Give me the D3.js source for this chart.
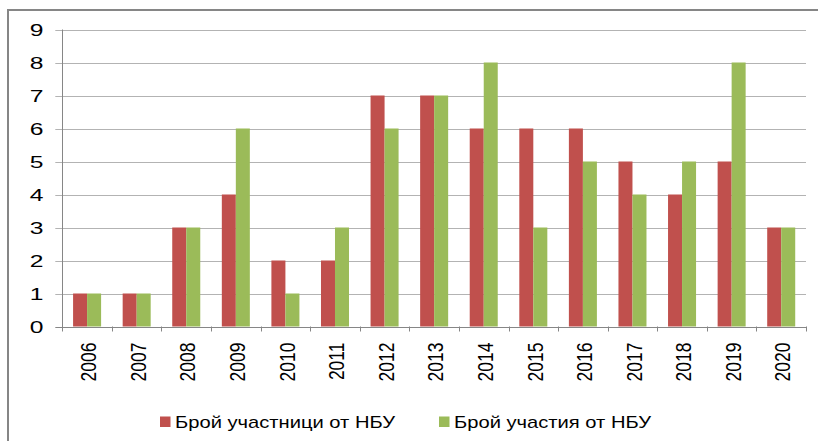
<!DOCTYPE html>
<html>
<head>
<meta charset="utf-8">
<script src="https://cdn.jsdelivr.net/npm/d3@7"></script>
<style>
  body { margin: 0; background: #fff; }
  text { font-family: "Liberation Sans", Arial, sans-serif; fill: #000; }
</style>
</head>
<body>
<svg id="chart" width="818" height="441"></svg>
<script>
const years = ['2006','2007','2008','2009','2010','2011','2012','2013','2014','2015','2016','2017','2018','2019','2020'];
const participants = [1, 1, 3, 4, 2, 2, 7, 7, 6, 6, 6, 5, 4, 5, 3];
const participations = [1, 1, 3, 6, 1, 3, 6, 7, 8, 3, 5, 4, 5, 8, 3];
const seriesNames = ['Брой участници от НБУ', 'Брой участия от НБУ'];
const colors = ['#c0504d', '#9bbb59'];
const yTicks = [0, 1, 2, 3, 4, 5, 6, 7, 8, 9];

const svg = d3.select('#chart');

// chart frame (clipped by the window on right and bottom)
svg.append('rect')
  .attr('x', 8).attr('y', 10)
  .attr('width', 830).attr('height', 460)
  .attr('fill', 'none')
  .attr('stroke', '#868686')
  .attr('stroke-width', 2);

const plotL = 62.3, plotR = 806, plotT = 29.5, plotB = 326.5;

const x = d3.scaleBand().domain(years).range([plotL, plotR])
  .paddingInner(0.435).paddingOuter(0.2175);
const xs = d3.scaleBand().domain([0, 1]).range([0, x.bandwidth()]);
const y = d3.scaleLinear().domain([0, 9]).range([plotB, plotT]);

// gridlines + left ticks
svg.append('g').selectAll('line').data(yTicks).enter().append('line')
  .attr('x1', plotL - 7).attr('x2', plotR)
  .attr('y1', d => Math.round(y(d)) + 0.5).attr('y2', d => Math.round(y(d)) + 0.5)
  .attr('stroke', d => d === 0 ? '#868686' : '#b3b3b3')
  .attr('stroke-width', 1);

// bars
const rows = years.map((yr, i) => ({ yr, vals: [participants[i], participations[i]] }));
const groups = svg.append('g').selectAll('g').data(rows).enter().append('g')
  .attr('transform', d => `translate(${x(d.yr)},0)`);
groups.selectAll('rect').data(d => d.vals.map((v, k) => ({ v, k }))).enter().append('rect')
  .attr('x', d => xs(d.k))
  .attr('width', xs.bandwidth())
  .attr('y', d => y(d.v))
  .attr('height', d => y(0) - y(d.v))
  .attr('fill', d => colors[d.k]);

// y axis line
svg.append('line')
  .attr('x1', Math.round(plotL) + 0.5).attr('x2', Math.round(plotL) + 0.5)
  .attr('y1', plotT).attr('y2', plotB + 0.5)
  .attr('stroke', '#868686');

// x axis tick marks at band boundaries
const step = x.step();
svg.append('g').selectAll('line').data(d3.range(years.length + 1)).enter().append('line')
  .attr('x1', i => Math.round(plotL + i * step) + 0.5)
  .attr('x2', i => Math.round(plotL + i * step) + 0.5)
  .attr('y1', plotB).attr('y2', plotB + 5)
  .attr('stroke', '#868686');

// y tick labels
svg.append('g').selectAll('text').data(yTicks).enter().append('text')
  .attr('transform', d => `translate(43.5,${y(d)}) scale(1.45,1)`)
  .attr('text-anchor', 'end')
  .attr('dy', '0.36em')
  .style('font-size', '17px')
  .text(d => d);

// x tick labels (rotated)
svg.append('g').selectAll('text').data(years).enter().append('text')
  .attr('transform', d => `translate(${x(d) + x.bandwidth() / 2 + 1},342.5) rotate(-90) scale(1,1.3)`)
  .attr('text-anchor', 'end')
  .attr('dy', '0.36em')
  .style('font-size', '17.5px')
  .text(d => d);

// legend
const legendX = [160, 439];
const legendW = [220, 197];
const lg = svg.append('g').selectAll('g').data(seriesNames).enter().append('g');
lg.append('rect')
  .attr('x', (d, i) => legendX[i]).attr('y', 416.5)
  .attr('width', 10.5).attr('height', 10.5)
  .attr('fill', (d, i) => colors[i]);
lg.append('text')
  .attr('x', (d, i) => legendX[i] + 15)
  .attr('y', 427.5)
  .attr('textLength', (d, i) => legendW[i])
  .attr('lengthAdjust', 'spacingAndGlyphs')
  .style('font-size', '17px')
  .text(d => d);
</script>
</body>
</html>
